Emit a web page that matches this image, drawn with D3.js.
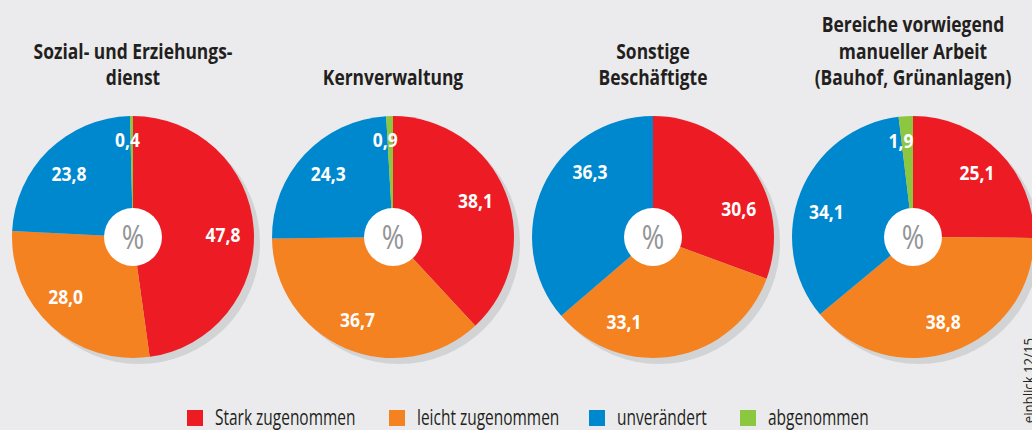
<!DOCTYPE html>
<html>
<head>
<meta charset="utf-8">
<script src="https://cdn.jsdelivr.net/npm/d3@7"></script>
<style>
  html, body { margin: 0; padding: 0; background: #ebebed; }
  svg { display: block; }
  text { font-family: "Open Sans", "Noto Sans", sans-serif; }
</style>
</head>
<body>
<svg id="chart" width="1032" height="430"></svg>
<script>
// ---- data ----
const groups = ["Sozial- und Erziehungsdienst", "Kernverwaltung", "Sonstige Beschäftigte", "Bereiche vorwiegend manueller Arbeit"];
const titleLines = [
  ["Sozial- und Erziehungs-", "dienst"],
  ["Kernverwaltung"],
  ["Sonstige", "Beschäftigte"],
  ["Bereiche vorwiegend", "manueller Arbeit", "(Bauhof, Grünanlagen)"]
];
const categories = ["Stark zugenommen", "leicht zugenommen", "unverändert", "abgenommen"];
const starkZugenommen  = [47.8, 38.1, 30.6, 25.1];
const leichtZugenommen = [28.0, 36.7, 33.1, 38.8];
const unveraendert     = [23.8, 24.3, 36.3, 34.1];
const abgenommen       = [0.4, 0.9, 0, 1.9];
const sourceNote = "einblick 12/15";

// ---- layout / style (not data) ----
const W = 1032, H = 430;
const colors = ["#ed1c24", "#f58220", "#0088cf", "#8dc63f"];
const R = 121, holeR = 29, cy = 237;
const labelR = 90, smallLabelR = 97;
// angular nudges (degrees) for label placement, per pie and slice
const labelNudge = [
  [3, 6, -1, -2.5],
  [-2, 0, 1, -3],
  [17, 29, 21, 0],
  [0, 0, -6, -3.7]
];
const titleScale = 0.83, legendScale = 0.72, valueScale = 0.92;

const series = [starkZugenommen, leichtZugenommen, unveraendert, abgenommen];
const rows = groups.map((g, i) => ({
  group: g, title: titleLines[i], idx: i,
  values: categories.map((c, j) => ({ cat: c, j, value: series[j][i] }))
}));

const de = d3.formatLocale({ decimal: ",", thousands: ".", grouping: [3], currency: ["", " €"] });
const fmt = de.format(".1f");

const svg = d3.select("#chart");
svg.append("rect").attr("width", W).attr("height", H).attr("fill", "#ebebed");

const x = d3.scaleBand().domain(groups).range([3, 1043]);
const color = d3.scaleOrdinal().domain(categories).range(colors);
const pie = d3.pie().value(d => d.value).sort(null).startAngle(0).endAngle(2 * Math.PI);
const arc = d3.arc().innerRadius(0).outerRadius(R);

const g = svg.selectAll("g.pie").data(rows).join("g")
  .attr("class", "pie")
  .attr("transform", d => `translate(${x(d.group) + x.bandwidth() / 2},${cy})`);

// shadow
g.append("circle").attr("cx", 6).attr("cy", 6).attr("r", R).attr("fill", "#d2d3d5");

// slices
g.selectAll("path.slice").data(d => pie(d.values).filter(s => s.data.value > 0)).join("path")
  .attr("class", "slice")
  .attr("d", arc)
  .attr("fill", s => color(s.data.cat));

// center hole
g.append("circle").attr("r", holeR).attr("fill", "#ffffff");
g.append("text")
  .attr("transform", "scale(0.85,1)")
  .attr("text-anchor", "middle").attr("dy", "0.36em")
  .attr("font-size", 32).attr("fill", "#939496")
  .text("%");

// value labels
g.each(function (row) {
  const sel = d3.select(this);
  pie(row.values).filter(s => s.data.value > 0).forEach(s => {
    const mid = (s.startAngle + s.endAngle) / 2 + labelNudge[row.idx][s.data.j] * Math.PI / 180;
    const r = s.data.value < 3 ? smallLabelR : labelR;
    sel.append("text")
      .attr("transform", `translate(${r * Math.sin(mid)},${-r * Math.cos(mid)}) scale(${valueScale},1)`)
      .attr("dy", "0.36em")
      .attr("text-anchor", "middle")
      .attr("font-size", 19).attr("font-weight", "bold")
      .attr("fill", "#ffffff")
      .text(fmt(s.data.value));
  });
});

// titles (bottom aligned)
const lineH = 26.5, lastBaseline = 85;
rows.forEach(d => {
  const cx = x(d.group) + x.bandwidth() / 2;
  svg.selectAll(null).data(d.title).join("text")
    .attr("class", "title")
    .attr("transform", (line, k) => `translate(${cx},${lastBaseline - (d.title.length - 1 - k) * lineH}) scale(${titleScale},1)`)
    .attr("text-anchor", "middle")
    .attr("font-size", 21).attr("font-weight", "bold").attr("fill", "#231f20")
    .text(line => line);
});

// legend
const legendX = [187, 389, 589, 740];
const leg = svg.selectAll("g.leg").data(categories).join("g")
  .attr("class", "leg")
  .attr("transform", (d, i) => `translate(${legendX[i]},410)`);
leg.append("rect").attr("width", 16).attr("height", 16).attr("fill", d => color(d));
leg.append("text")
  .attr("transform", `translate(28,15) scale(${legendScale},1)`)
  .attr("font-size", 21.5).attr("fill", "#231f20")
  .text(d => d);

// source note (rotated, clipped at bottom/right edge as in the reference)
svg.append("text")
  .attr("transform", "translate(1034,338) rotate(-90) scale(0.88,1)")
  .attr("text-anchor", "end")
  .attr("font-size", 15).attr("fill", "#231f20")
  .text(sourceNote);
</script>
</body>
</html>
